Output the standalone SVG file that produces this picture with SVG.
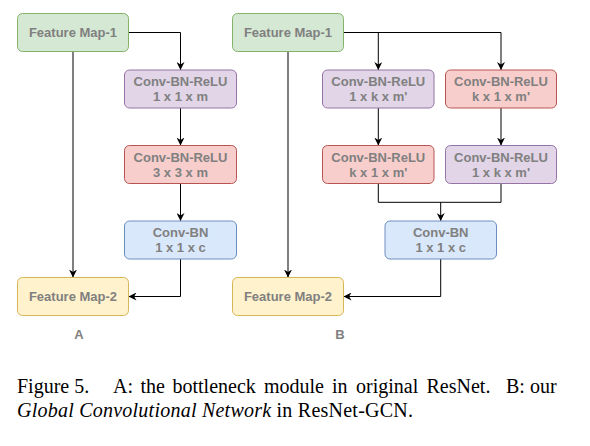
<svg xmlns="http://www.w3.org/2000/svg" width="590" height="446" viewBox="0 0 590 446">
<defs>
<marker id="arr" viewBox="0 0 10 10" refX="10" refY="5" markerWidth="8" markerHeight="8" markerUnits="userSpaceOnUse" orient="auto">
<path d="M0,0 L10,5 L0,10 L3,5 Z" fill="#000"/>
</marker>
<style>
.box{stroke-width:1}
.g{fill:#d5e8d4;stroke:#82b366}
.p{fill:#e1d5e7;stroke:#9673a6}
.r{fill:#f8cecc;stroke:#b85450}
.b{fill:#dae8fc;stroke:#6c8ebf}
.y{fill:#fff2cc;stroke:#d6b656}
.t{font-family:"Liberation Sans",Arial,sans-serif;font-size:13px;font-weight:bold;fill:#808080;text-anchor:middle}
.c{fill:none;stroke:#000;stroke-width:1;marker-end:url(#arr)}
.l{fill:none;stroke:#000;stroke-width:1}
.cap{font-family:"Liberation Serif","Times New Roman",serif;font-size:20px;fill:#000}
</style>
</defs>
<rect width="590" height="446" fill="#fff"/>

<g id="connectors">
<path class="c" d="M128.5,32.5 H180.5 V70"/>
<path class="c" d="M180.5,108 V145.5"/>
<path class="c" d="M180.5,183.5 V221"/>
<path class="c" d="M180.5,259 V296.5 H128.5"/>
<path class="c" d="M73,51.5 V277.5"/>
<path class="c" d="M343.5,32.5 H501 V70"/>
<path class="c" d="M378.3,32.5 V70"/>
<path class="c" d="M378.3,108 V145.5"/>
<path class="c" d="M501,108 V145.5"/>
<path class="l" d="M378.3,183.5 V202.3 H501 V183.5"/>
<path class="c" d="M440.7,202.3 V221"/>
<path class="c" d="M440.7,259 V296.5 H343.5"/>
<path class="c" d="M288,51.5 V277.5"/>
</g>

<g id="a_fm1"><rect class="box g" x="17.5" y="13.5" width="111" height="38" rx="5"/><text class="t" x="73" y="37.2">Feature Map-1</text></g>
<g id="a_conv1"><rect class="box p" x="124.5" y="70" width="112" height="38" rx="5"/><text class="t" x="180.5" y="86.2">Conv-BN-ReLU</text><text class="t" x="180.5" y="101.2">1 x 1 x m</text></g>
<g id="a_conv2"><rect class="box r" x="124.5" y="145.5" width="112" height="38" rx="5"/><text class="t" x="180.5" y="161.7">Conv-BN-ReLU</text><text class="t" x="180.5" y="176.7">3 x 3 x m</text></g>
<g id="a_conv3"><rect class="box b" x="124.5" y="221" width="112" height="38" rx="5"/><text class="t" x="180.5" y="237.2">Conv-BN</text><text class="t" x="180.5" y="252.2">1 x 1 x c</text></g>
<g id="a_fm2"><rect class="box y" x="17.5" y="277.5" width="111" height="38" rx="5"/><text class="t" x="73" y="301.2">Feature Map-2</text></g>
<g id="label_a"><text class="t" x="79" y="339">A</text></g>

<g id="b_fm1"><rect class="box g" x="232.5" y="13.5" width="111" height="38" rx="5"/><text class="t" x="288" y="37.2">Feature Map-1</text></g>
<g id="b_conv1l"><rect class="box p" x="322.5" y="70" width="111.5" height="38" rx="5"/><text class="t" x="378.3" y="86.2">Conv-BN-ReLU</text><text class="t" x="378.3" y="101.2">1 x k x m'</text></g>
<g id="b_conv1r"><rect class="box r" x="445.5" y="70" width="111" height="38" rx="5"/><text class="t" x="501" y="86.2">Conv-BN-ReLU</text><text class="t" x="501" y="101.2">k x 1 x m'</text></g>
<g id="b_conv2l"><rect class="box r" x="322.5" y="145.5" width="111.5" height="38" rx="5"/><text class="t" x="378.3" y="161.7">Conv-BN-ReLU</text><text class="t" x="378.3" y="176.7">k x 1 x m'</text></g>
<g id="b_conv2r"><rect class="box p" x="445.5" y="145.5" width="111" height="38" rx="5"/><text class="t" x="501" y="161.7">Conv-BN-ReLU</text><text class="t" x="501" y="176.7">1 x k x m'</text></g>
<g id="b_conv3"><rect class="box b" x="385" y="221" width="111.5" height="38" rx="5"/><text class="t" x="440.7" y="237.2">Conv-BN</text><text class="t" x="440.7" y="252.2">1 x 1 x c</text></g>
<g id="b_fm2"><rect class="box y" x="232.5" y="277.5" width="111" height="38" rx="5"/><text class="t" x="288" y="301.2">Feature Map-2</text></g>
<g id="label_b"><text class="t" x="340" y="339">B</text></g>

<g id="caption">
<text class="cap" y="392.7"><tspan x="17">Figure 5.</tspan><tspan x="113">A:</tspan><tspan x="140.5">the</tspan><tspan x="172.5">bottleneck</tspan><tspan x="264">module</tspan><tspan x="332">in</tspan><tspan x="356">original</tspan><tspan x="426.5">ResNet.</tspan><tspan x="506">B:</tspan><tspan x="530">our</tspan></text>
<text class="cap" y="416.7" x="17" textLength="396" lengthAdjust="spacing"><tspan font-style="italic">Global Convolutional Network</tspan> in ResNet-GCN.</text>
</g>
</svg>
